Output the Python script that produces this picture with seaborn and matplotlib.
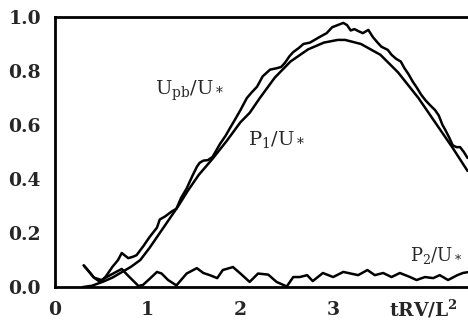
import matplotlib
matplotlib.use('Agg')
import matplotlib.pyplot as plt
import pandas as pd
import seaborn as sns

# U_pb/U_* (wiggly upper curve)
upb_t = [0.31, 0.36, 0.42, 0.49, 0.55, 0.62, 0.68, 0.72, 0.79, 0.84, 0.88, 0.95,
         1.02, 1.10, 1.13, 1.19, 1.26, 1.31, 1.36, 1.42, 1.48, 1.53, 1.56, 1.60,
         1.65, 1.70, 1.78, 1.84, 1.89, 1.95, 2.00, 2.07, 2.12, 2.18, 2.24, 2.32,
         2.39, 2.44, 2.48, 2.53, 2.57, 2.63, 2.68, 2.75, 2.80, 2.85, 2.93, 2.99,
         3.05, 3.11, 3.15, 3.19, 3.23, 3.27, 3.32, 3.38, 3.43, 3.48, 3.52, 3.59,
         3.63, 3.68, 3.73, 3.77, 3.81, 3.86, 3.90, 3.95, 4.00, 4.05, 4.10, 4.14,
         4.18, 4.21, 4.25, 4.29, 4.33, 4.37, 4.41, 4.45]
upb_v = [0.080, 0.060, 0.035, 0.018, 0.040, 0.075, 0.100, 0.126, 0.107, 0.112, 0.118, 0.150,
         0.185, 0.220, 0.250, 0.262, 0.280, 0.290, 0.330, 0.365, 0.410, 0.445, 0.460, 0.468,
         0.470, 0.482, 0.530, 0.560, 0.590, 0.625, 0.655, 0.700, 0.720, 0.742, 0.780, 0.805,
         0.810, 0.815, 0.830, 0.855, 0.870, 0.885, 0.900, 0.905, 0.915, 0.925, 0.940, 0.962,
         0.970, 0.978, 0.970, 0.950, 0.955, 0.948, 0.940, 0.952, 0.925, 0.905, 0.890, 0.878,
         0.860, 0.845, 0.835, 0.810, 0.790, 0.760, 0.740, 0.712, 0.690, 0.672, 0.655, 0.635,
         0.600, 0.582, 0.555, 0.525, 0.518, 0.518, 0.500, 0.478]

# P_1/U_* (smooth curve)
p1_t = [0.30, 0.40, 0.52, 0.62, 0.72, 0.82, 0.92, 1.02, 1.13, 1.23, 1.33, 1.43,
        1.55, 1.70, 1.85, 2.00, 2.10, 2.21, 2.37, 2.54, 2.73, 2.90, 3.05, 3.13,
        3.30, 3.51, 3.70, 3.92, 4.10, 4.29, 4.45]
p1_v = [0.000, 0.005, 0.020, 0.035, 0.055, 0.075, 0.100, 0.145, 0.200, 0.250, 0.300, 0.355,
        0.415, 0.475, 0.540, 0.610, 0.645, 0.700, 0.775, 0.835, 0.880, 0.905, 0.915, 0.915,
        0.900, 0.860, 0.795, 0.700, 0.610, 0.515, 0.430]

# P_2/U_* (wiggly curve near zero)
p2_t = [0.31, 0.36, 0.42, 0.50, 0.60, 0.72, 0.78, 0.90, 0.95, 1.02, 1.10, 1.15,
        1.22, 1.31, 1.42, 1.53, 1.60, 1.67, 1.75, 1.81, 1.92, 2.00, 2.10, 2.19,
        2.30, 2.39, 2.50, 2.57, 2.64, 2.72, 2.78, 2.89, 3.00, 3.11, 3.19, 3.27,
        3.37, 3.45, 3.54, 3.63, 3.72, 3.83, 3.90, 3.99, 4.08, 4.15, 4.24, 4.34,
        4.40, 4.45]
p2_v = [0.080, 0.060, 0.035, 0.026, 0.045, 0.067, 0.045, 0.004, 0.008, 0.030, 0.056, 0.050,
        0.026, 0.006, 0.050, 0.070, 0.052, 0.044, 0.033, 0.063, 0.074, 0.050, 0.019, 0.050,
        0.046, 0.019, 0.002, 0.037, 0.037, 0.044, 0.022, 0.052, 0.037, 0.056, 0.050, 0.044,
        0.063, 0.044, 0.052, 0.037, 0.052, 0.037, 0.026, 0.037, 0.033, 0.044, 0.026, 0.044,
        0.052, 0.055]

x_ticks = [0, 1, 2, 3]
x_labels = ['0', '1', '2', '3']
y_ticks = [0.0, 0.2, 0.4, 0.6, 0.8, 1.0]

sns.set_style('white')
plt.rcParams['font.family'] = ['DejaVu Serif']
plt.rcParams['mathtext.default'] = 'regular'

fig = plt.figure(figsize=(4.68, 3.2), dpi=100)
ax = fig.add_axes([0.1175, 0.103, 0.8825, 0.844])

df_upb = pd.DataFrame({'t': upb_t, 'v': upb_v})
df_p1 = pd.DataFrame({'t': p1_t, 'v': p1_v})
df_p2 = pd.DataFrame({'t': p2_t, 'v': p2_v})
sns.lineplot(data=df_upb, x='t', y='v', color='black', lw=1.8, ax=ax)
sns.lineplot(data=df_p1, x='t', y='v', color='black', lw=1.8, ax=ax)
sns.lineplot(data=df_p2, x='t', y='v', color='black', lw=1.8, ax=ax)

ax.set_xlim(0, 4.455)
ax.set_ylim(0, 1.0)
ax.set_xticks(x_ticks)
ax.set_xticklabels(x_labels)
ax.set_yticks(y_ticks)
ax.set_yticklabels(['%.1f' % v for v in y_ticks])
ax.tick_params(length=0, labelsize=13.5, pad=10)
for lab in ax.get_xticklabels() + ax.get_yticklabels():
    lab.set_fontweight('bold')
ax.set_xlabel('')
ax.set_ylabel('')

for side in ['left', 'top', 'bottom']:
    ax.spines[side].set_color('black')
    ax.spines[side].set_linewidth(2)
ax.spines['right'].set_visible(False)

# axis title sits in the tick label row, where "4" would be
ax.text(3.97, -0.107, 'tRV/L$^2$', fontsize=13.5, fontweight='bold',
        ha='center', va='baseline')

ax.text(1.08, 0.725, 'U$_{pb}$/U$_*$', fontsize=14, va='center', ha='left')
ax.text(2.08, 0.548, 'P$_1$/U$_*$', fontsize=14, va='center', ha='left')
ax.text(3.83, 0.115, 'P$_2$/U$_*$', fontsize=13, va='center', ha='left')

plt.savefig('out.png', dpi=100)
plt.close()
